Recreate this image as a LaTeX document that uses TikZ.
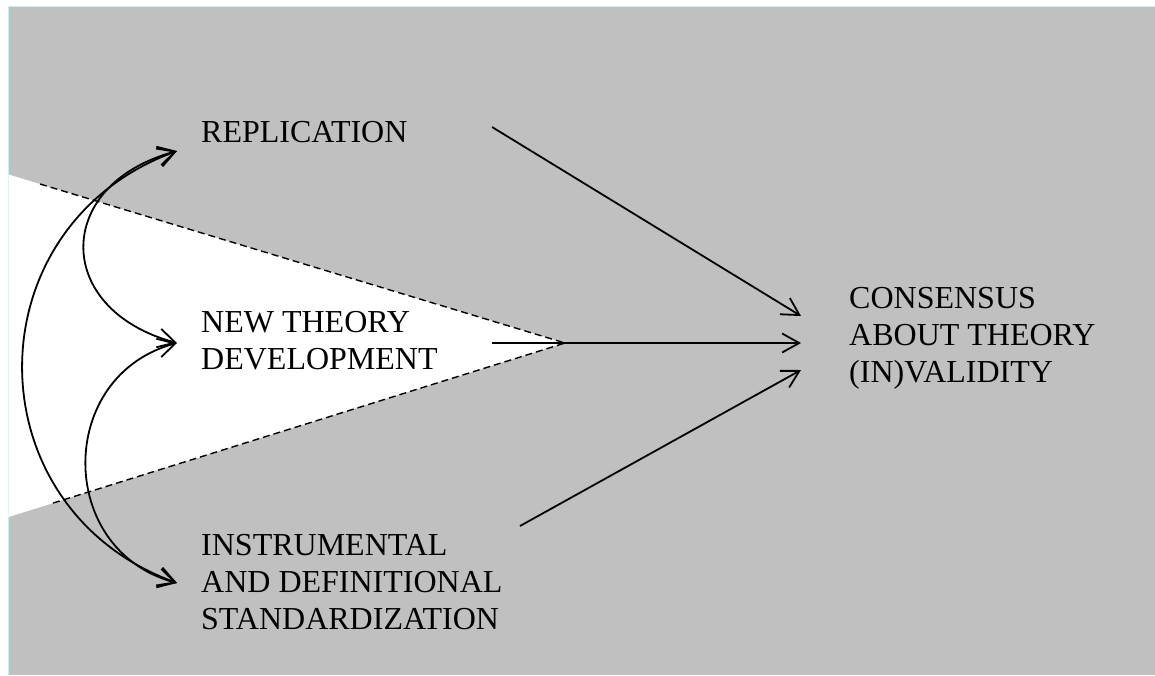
\documentclass[tikz,border=0pt]{standalone}
\usepackage{fontspec}
\setmainfont{Liberation Serif}
\usetikzlibrary{arrows.meta}
\definecolor{bggray}{RGB}{192,192,192}
\definecolor{edgecyan}{RGB}{200,240,240}
\begin{document}
\begin{tikzpicture}[x=1pt,y=-1pt,
  lbl/.style={anchor=base west,inner sep=0pt,align=left,font=\fontsize{32}{37}\selectfont},
  conn/.style={line width=1.8pt,-{Straight Barb[length=17pt,width=19pt,line width=1.8pt]}},
  dconn/.style={line width=1.8pt,{Straight Barb[length=17pt,width=19pt,line width=1.8pt]}-{Straight Barb[length=17pt,width=19pt,line width=1.8pt]}},
  bound/.style={line width=1.4pt,dash pattern=on 7pt off 4pt}]
\useasboundingbox (0,0) rectangle (1155,675);
% background
\fill[bggray] (8,6) rectangle (1155,675);
\draw[edgecyan,line width=1pt] (8,675) -- (8,6) -- (1155,6);
% white wedge
\coordinate (apex) at (565,343);
\coordinate (wtop) at (8.5,174.5);
\coordinate (wbot) at (8.5,517);
\fill[white] (wtop) -- (apex) -- (wbot) -- cycle;
\coordinate (dtop) at (40,184);
\coordinate (dbot) at (50,504);
\draw[bound] (dtop) -- (apex) -- (dbot);
% labels (base anchor = baseline of last line)
\node[lbl] (rep) at (201,142) {REPLICATION};
\node[lbl] (ntd) at (201,369) {NEW THEORY\\DEVELOPMENT};
\node[lbl] (ids) at (201,629) {INSTRUMENTAL\\AND DEFINITIONAL\\STANDARDIZATION};
\node[lbl] (cons) at (849,382) {CONSENSUS\\ABOUT THEORY\\(IN)VALIDITY};
% connector end points
\coordinate (repL) at (177,151);
\coordinate (ntdL) at (177,343);
\coordinate (idsL) at (177,583);
\coordinate (repR) at (492,127);
\coordinate (ntdR) at (492,343);
\coordinate (idsR) at (520,526);
\coordinate (cA) at (801,316);
\coordinate (cB) at (801,343);
\coordinate (cC) at (801,370);
% straight arrows
\draw[conn] (repR) -- (cA);
\draw[conn] (ntdR) -- (cB);
\draw[conn] (idsR) -- (cC);
% curved double arrows
\draw[dconn] (repL) .. controls (-28.7,226) and (-28.7,508) .. (idsL);
\draw[dconn] (repL) .. controls (53,184.5) and (53,309.5) .. (ntdL);
\draw[dconn] (ntdL) .. controls (55.7,375.5) and (55.7,550.5) .. (idsL);
\end{tikzpicture}
\end{document}
